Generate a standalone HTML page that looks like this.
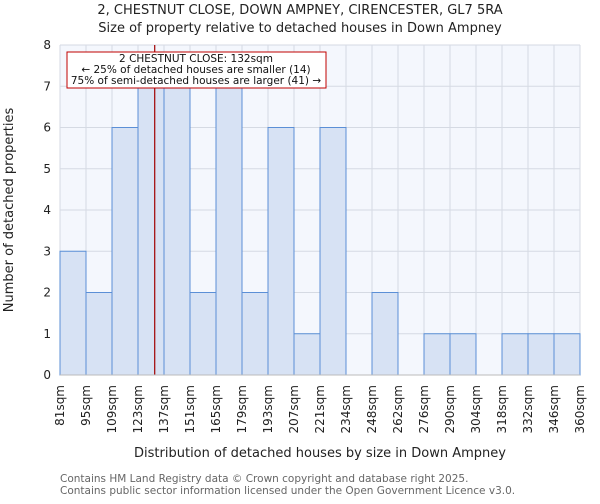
<!DOCTYPE html>
<html><head><meta charset="utf-8"><style>
body{margin:0;background:#fff;font-family:"DejaVu Sans","Liberation Sans",sans-serif;}
svg text{font-family:"DejaVu Sans","Liberation Sans",sans-serif;}
</style></head><body>
<svg id="chart" width="600" height="500" xmlns="http://www.w3.org/2000/svg">
<text x="300" y="14" font-size="13" text-anchor="middle" fill="#222">2, CHESTNUT CLOSE, DOWN AMPNEY, CIRENCESTER, GL7 5RA</text>
<text x="300" y="32" font-size="13" text-anchor="middle" fill="#222">Size of property relative to detached houses in Down Ampney</text>
<rect x="60" y="45" width="520" height="330" fill="#f4f7fd"/>
<g id="grid"></g><g id="bars"></g><g id="axes"></g>
<text x="320" y="457" font-size="13" text-anchor="middle" fill="#222">Distribution of detached houses by size in Down Ampney</text>
<text transform="translate(13,210) rotate(-90)" font-size="13" text-anchor="middle" fill="#222">Number of detached properties</text>
<text x="60" y="482" font-size="10.5" fill="#666">Contains HM Land Registry data © Crown copyright and database right 2025.</text>
<text x="60" y="494" font-size="10.5" fill="#666">Contains public sector information licensed under the Open Government Licence v3.0.</text>
</svg>
<script>
const binLabels=["81sqm","95sqm","109sqm","123sqm","137sqm","151sqm","165sqm","179sqm","193sqm","207sqm","221sqm","234sqm","248sqm","262sqm","276sqm","290sqm","304sqm","318sqm","332sqm","346sqm","360sqm"];
const counts=[3,2,6,7,7,2,7,2,6,1,6,0,2,0,1,1,0,1,1,1];
const yTicks=[0,1,2,3,4,5,6,7,8];
const propertySize=132;
const NS="http://www.w3.org/2000/svg";
const X0=60,X1=580,Y0=375,Y1=45,yMax=8;
const n=counts.length,bw=(X1-X0)/n;
const xs=i=>X0+i*bw;
const ys=v=>Y0-(Y0-Y1)*v/yMax;
function mk(t,a,p){const e=document.createElementNS(NS,t);for(const k in a)e.setAttribute(k,a[k]);p.appendChild(e);return e;}
const grid=document.getElementById('grid'),bars=document.getElementById('bars'),axes=document.getElementById('axes');
yTicks.forEach(v=>{
 const l=mk('line',{x1:X0,x2:X1,y1:ys(v),y2:ys(v),stroke:'#d5dae3','stroke-width':1},grid);
 
 
 const t=mk('text',{x:X0-9,y:ys(v)+4,'font-size':12,'text-anchor':'end',fill:'#222'},axes);
 t.textContent=v;
 
 
});
binLabels.forEach((s,i)=>{
 const l=mk('line',{x1:xs(i),x2:xs(i),y1:Y1,y2:Y0,stroke:'#d5dae3','stroke-width':1},grid);
 
 
 const t=mk('text',{transform:`translate(${xs(i)+4},${Y0+10}) rotate(-90)`,'font-size':12,'text-anchor':'end',fill:'#222'},axes);
 t.textContent=s;
 
 
});
counts.forEach((c,i)=>{
 if(c<=0)return;
 const r=mk('rect',{x:xs(i),y:ys(c),width:bw,height:Y0-ys(c),fill:'#d7e2f4',stroke:'#5b8fd6','stroke-width':1},bars);
 
 
});
const edges=binLabels.map(s=>parseFloat(s));
let k=0;while(k<n-1&&propertySize>=edges[k+1])k++;
const mx=xs(k)+bw*(propertySize-edges[k])/(edges[k+1]-edges[k]);
const ml=mk('line',{x1:mx,x2:mx,y1:Y1,y2:Y0,stroke:'#a00000','stroke-width':1.2},axes);


const box=mk('g',{},axes);


mk('rect',{x:67,y:52,width:259,height:36,fill:'#fff',stroke:'#c00000','stroke-width':1},box);
[["2 CHESTNUT CLOSE: "+propertySize+"sqm",62],["← 25% of detached houses are smaller (14)",73],["75% of semi-detached houses are larger (41) →",84]].forEach(([s,y])=>{
 const t=mk('text',{x:196,y:y,'font-size':10.5,'text-anchor':'middle',fill:'#111'},box);t.textContent=s;
});
mk('line',{x1:X0,x2:X1,y1:Y0,y2:Y0,stroke:'#bbb'},axes);
</script>
</body></html>
